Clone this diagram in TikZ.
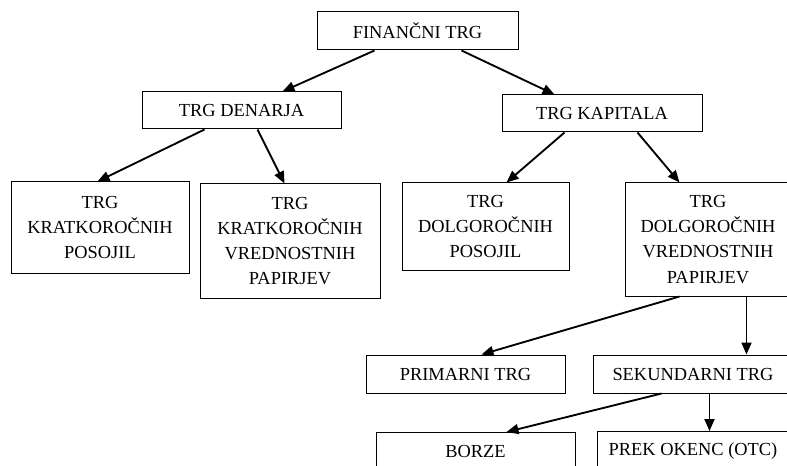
\documentclass[tikz,border=0pt]{standalone}
\usepackage{fontspec}
\setmainfont{Liberation Serif}
\usetikzlibrary{arrows.meta,calc}
\begin{document}
\begin{tikzpicture}[x=0.75pt,y=-0.75pt,
  box/.style={draw, line width=0.75pt, inner sep=0pt, align=center,
    font=\fontsize{13.8}{18.8}\selectfont},
  arr/.style={line width=1.4pt, -{Triangle[length=9pt,width=7.5pt]}}]
\clip (0,0) rectangle (787,466);
\useasboundingbox (0,0) rectangle (787,466);
\fill[white] (0,0) rectangle (787,466);

% top level
\node[box, minimum width=201*0.75pt, minimum height=38*0.75pt] (fin) at (417.5,31) {FINANČNI TRG};

% second level
\node[box, minimum width=199*0.75pt, minimum height=37*0.75pt] (den) at (241.5,110.5) {TRG DENARJA};
\node[box, minimum width=200*0.75pt, minimum height=37*0.75pt] (kap) at (602,113.5) {TRG KAPITALA};

% third level
\node[box, minimum width=178*0.75pt, minimum height=91*0.75pt] (kpos) at (100,227.5) {TRG\\KRATKOROČNIH\\POSOJIL};
\node[box, minimum width=180*0.75pt, minimum height=114*0.75pt] (kvp) at (290,241) {TRG\\KRATKOROČNIH\\VREDNOSTNIH\\PAPIRJEV};
\node[box, minimum width=167*0.75pt, minimum height=87*0.75pt] (dpos) at (485.5,226.5) {TRG\\DOLGOROČNIH\\POSOJIL};
\node[box, minimum width=166*0.75pt, minimum height=113*0.75pt] (dvp) at (708,239.5) {TRG\\DOLGOROČNIH\\VREDNOSTNIH\\PAPIRJEV};

% fourth level
\node[box, minimum width=199*0.75pt, minimum height=38*0.75pt] (prim) at (465.5,374) {PRIMARNI TRG};
\node[box, minimum width=200*0.75pt, minimum height=38*0.75pt] (sek) at (693,374) {SEKUNDARNI TRG};

% fifth level
\node[box, anchor=north, minimum width=199*0.75pt, text height=25*0.75pt, text depth=40*0.75pt] (borze) at (475.5,432) {BORZE};
\node[box, anchor=north, minimum width=192*0.75pt, text height=24*0.75pt, text depth=40*0.75pt] (prek) at (693,431) {PREK OKENC (OTC)};

% connectors
\draw[arr] ($(fin.south west)+(58,0)$) -- ($(den.north west)+(141,0)$);
\draw[arr] ($(fin.south west)+(145,0)$) -- ($(kap.north west)+(53,0)$);
\draw[arr] ($(den.south west)+(63,0)$) -- ($(kpos.north west)+(87,0)$);
\draw[arr] ($(den.south west)+(116,0)$) -- ($(kvp.north west)+(85,0)$);
\draw[arr] ($(kap.south west)+(63,0)$) -- ($(dpos.north west)+(105,0)$);
\draw[arr] ($(kap.south west)+(136,0)$) -- ($(dvp.north west)+(55,0)$);
\draw[arr] ($(dvp.south west)+(55,0)$) -- ($(prim.north west)+(116,0)$);
\draw[arr] ($(dvp.south west)+(122,0)$) -- ($(sek.north west)+(154,0)$);
\draw[arr] ($(sek.south west)+(69,0)$) -- ($(borze.north west)+(131,0)$);
\draw[arr] ($(sek.south west)+(117,0)$) -- ($(prek.north west)+(113,0)$);
\end{tikzpicture}
\end{document}
